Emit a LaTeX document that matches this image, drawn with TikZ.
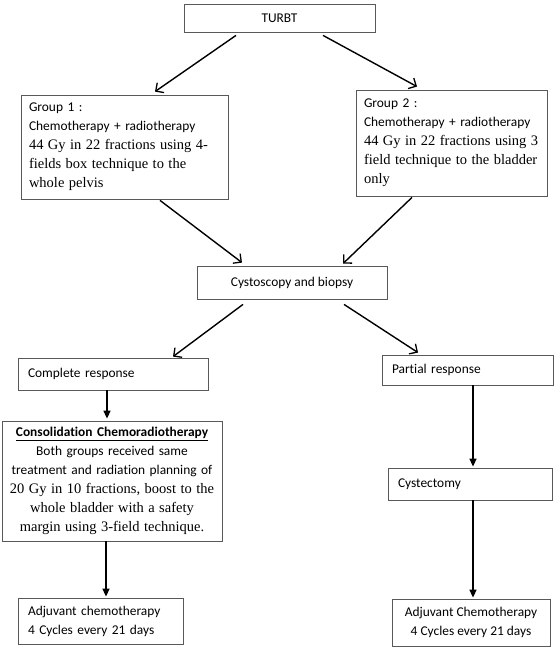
\documentclass[tikz,border=0pt]{standalone}
\usepackage{fontspec}
\usepackage{tikz}
\usepackage{xcolor}
\setmainfont{Liberation Serif}
\setsansfont{Carlito}[Ligatures=NoCommon]
\definecolor{framecolor}{gray}{0.35}
\colorlet{arrowcolor}{black}
\usetikzlibrary{
  arrows.meta,
}
\newcommand{\serifpart}{\rmfamily\fontsize{14.5}{19}\selectfont}

\begin{document}
\begin{tikzpicture}[x=1pt,y=-1pt]
	\tikzstyle{every node}=[font=\sffamily\fontsize{13.4}{19}\selectfont]
	\tikzstyle{flowbox}=[draw=framecolor, line width=0.8pt, rectangle, inner sep=0pt]
	\tikzstyle{diagarrow}=[arrowcolor, line width=1.4pt, -{Straight Barb[length=6pt,width=12pt,line width=1.3pt]}]
	\tikzstyle{vertarrow}=[arrowcolor, line width=1.5pt, -{Triangle[length=8pt,width=7pt]}]
	\useasboundingbox (0,0) rectangle (558,647);
	% top
	\node (turbt)[flowbox, minimum width=191pt, minimum height=28pt] at (279.5,18) {TURBT};
	% groups
	\node (group1)[flowbox, minimum width=207pt, minimum height=104pt, text width=191pt, inner xsep=8pt, align=left] at (124.5,147)
		{Group 1 :\\Chemotherapy + radiotherapy\\{\serifpart 44 Gy in 22 fractions using 4-\\fields box technique to the\\whole pelvis}};
	\node (group2)[flowbox, minimum width=191pt, minimum height=106pt, text width=175pt, inner xsep=8pt, align=left] at (451.5,143)
		{Group 2 :\\Chemotherapy + radiotherapy\\{\serifpart 44 Gy in 22 fractions using 3\\field technique to the bladder\\only}};
	% middle
	\node (cysto)[flowbox, minimum width=190pt, minimum height=33pt] at (292,282.5) {Cystoscopy and biopsy};
	\node (complete)[flowbox, minimum width=190pt, minimum height=32pt, text width=170pt, inner xsep=10pt, align=left] at (113,374) {Complete response};
	\node (partial)[flowbox, minimum width=171pt, minimum height=30pt, text width=151pt, inner xsep=10pt, align=left] at (467.5,370) {Partial response};
	% lower left
	\node (consol)[flowbox, minimum width=220pt, minimum height=120pt, text width=216pt, inner xsep=2pt, align=center] at (112,481)
		{\underline{\textbf{Consolidation Chemoradiotherapy}}\\Both groups received same\\treatment and radiation planning of\\{\serifpart 20 Gy in 10 fractions, boost to the\\whole bladder with a safety\\margin using 3-field technique.}};
	\node (adjleft)[flowbox, minimum width=165pt, minimum height=46pt, text width=145pt, inner xsep=10pt, align=left] at (100.5,621)
		{Adjuvant chemotherapy\\4 Cycles every 21 days};
	% lower right
	\node (cystectomy)[flowbox, minimum width=164pt, minimum height=32pt, text width=144pt, inner xsep=10pt, align=left] at (470,484) {Cystectomy};
	\node (adjright)[flowbox, minimum width=158pt, minimum height=47pt, align=center] at (471,622.5)
		{Adjuvant Chemotherapy\\4 Cycles every 21 days};
	% Arrows
	\draw [diagarrow] ([xshift=-43.5pt,yshift=-3pt]turbt.south) -- ([xshift=30.5pt,yshift=3pt]group1.north);
	\draw [diagarrow] ([xshift=43.5pt,yshift=-3pt]turbt.south) -- ([xshift=-34.5pt,yshift=3pt]group2.north);
	\draw [diagarrow] ([xshift=35.5pt,yshift=-1pt]group1.south) -- ([xshift=-50pt,yshift=3pt]cysto.north);
	\draw [diagarrow] ([xshift=-39.5pt,yshift=-1pt]group2.south) -- ([xshift=51pt,yshift=2pt]cysto.north);
	\draw [diagarrow] ([xshift=-49pt,yshift=-5pt]cysto.south) -- ([xshift=60pt,yshift=1pt]complete.north);
	\draw [diagarrow] ([xshift=52pt,yshift=-5pt]cysto.south) -- ([xshift=-49.5pt,yshift=2pt]partial.north);
	\draw [vertarrow] ([xshift=-6pt]complete.south) -- ([xshift=-5pt,yshift=2pt]consol.north);
	\draw [vertarrow] ([xshift=-6pt]consol.south) -- ([xshift=5.5pt,yshift=1pt]adjleft.north);
	\draw [vertarrow] ([xshift=5.5pt]partial.south) -- ([xshift=3pt,yshift=1pt]cystectomy.north);
	\draw [vertarrow] ([xshift=3pt]cystectomy.south) -- ([xshift=2pt,yshift=1pt]adjright.north);
\end{tikzpicture}
\end{document}
